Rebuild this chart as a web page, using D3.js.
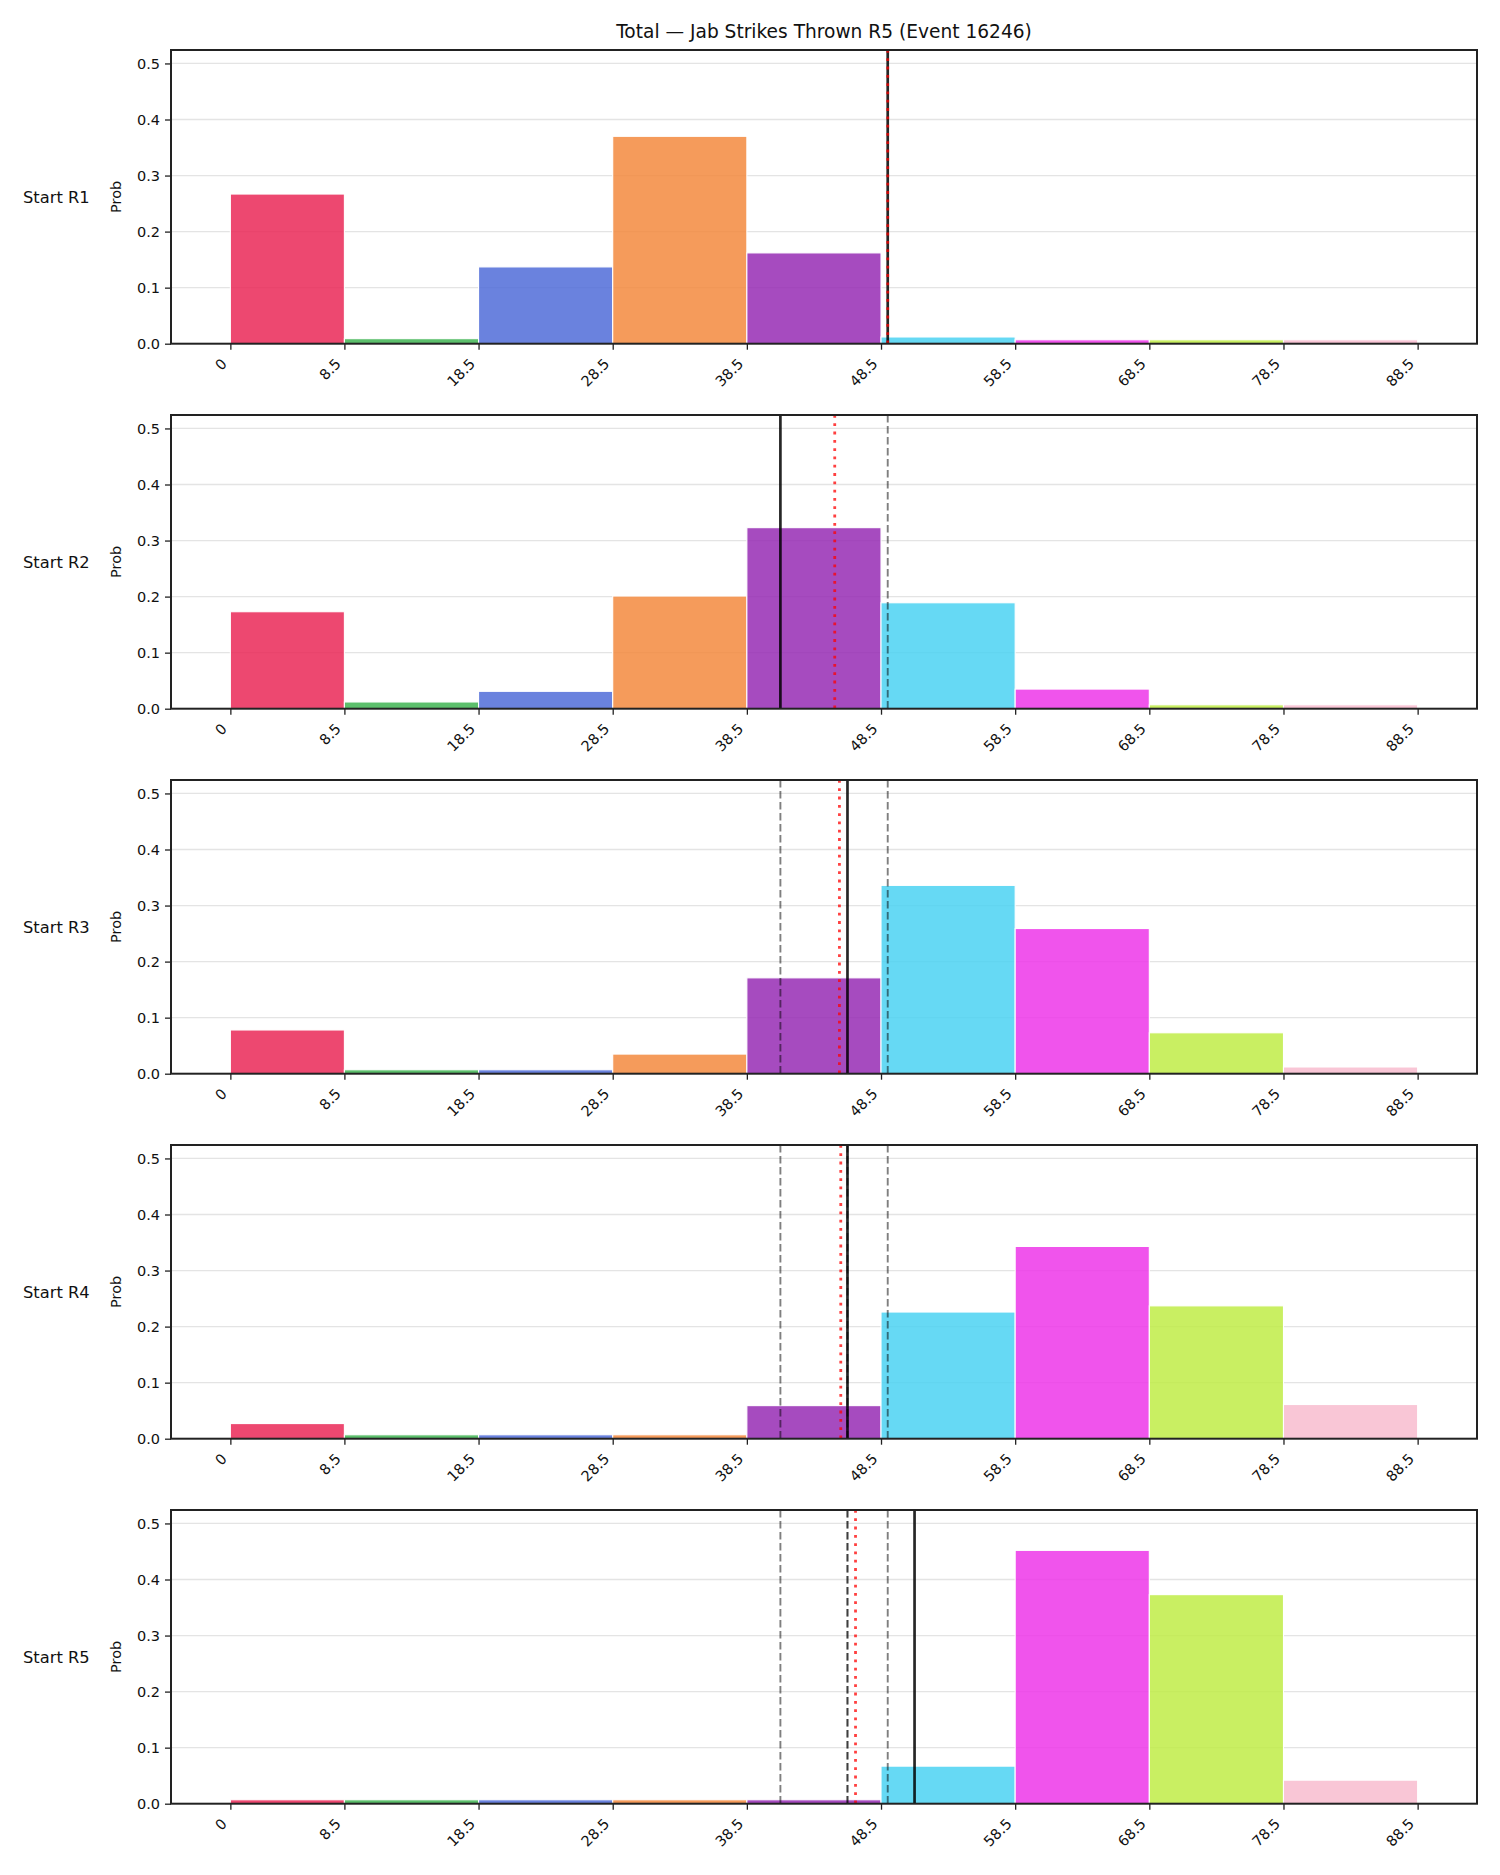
<!DOCTYPE html>
<html>
<head>
<meta charset="utf-8">
<script src="https://cdn.jsdelivr.net/npm/d3@7"></script>
<style>
  body { margin: 0; background: #fff; }
  text { font-family: "DejaVu Sans", sans-serif; fill: #111; }
</style>
</head>
<body>
<svg id="chart" width="1500" height="1875"></svg>
<script>
// bins of the histogram (left edges + final right edge)
const binEdges = [0, 8.5, 18.5, 28.5, 38.5, 48.5, 58.5, 68.5, 78.5, 88.5];
const tickLabels = ["0", "8.5", "18.5", "28.5", "38.5", "48.5", "58.5", "68.5", "78.5", "88.5"];
const binColors = ["#ea2857", "#3fb452", "#506cd8", "#f3893e", "#962bb4",
                   "#4bd2f2", "#ed36e9", "#c0ec46", "#f8bccf"];

const rowLabels = ["Start R1", "Start R2", "Start R3", "Start R4", "Start R5"];
const probR1 = [0.267, 0.009, 0.137, 0.370, 0.162, 0.012, 0.007, 0.007, 0.007];
const probR2 = [0.173, 0.012, 0.031, 0.201, 0.323, 0.189, 0.035, 0.007, 0.007];
const probR3 = [0.078, 0.007, 0.007, 0.035, 0.171, 0.336, 0.259, 0.073, 0.012];
const probR4 = [0.027, 0.007, 0.007, 0.007, 0.059, 0.226, 0.343, 0.237, 0.061];
const probR5 = [0.007, 0.007, 0.007, 0.007, 0.007, 0.067, 0.452, 0.373, 0.042];
const probs = [probR1, probR2, probR3, probR4, probR5];

// mean of each round's distribution, and the red reference line
const meanLines = [49.0, 41.0, 46.0, 46.0, 51.0];
const redLines = [49.0, 45.05, 45.4, 45.5, 46.6];

const yTicks = [0, 0.1, 0.2, 0.3, 0.4, 0.5];
const title = "Total \u2014 Jab Strikes Thrown R5 (Event 16246)";

var svg = d3.select("#chart");
var left = 171, right = 1477, panelH = 293.7, panelStep = 365, firstTop = 50;

var x = d3.scaleLinear().domain([-4.425, 92.925]).range([left, right]);

svg.append("rect").attr("width", 1500).attr("height", 1875).attr("fill", "#fff");

svg.append("text")
    .attr("x", (left + right) / 2)
    .attr("y", 38)
    .attr("text-anchor", "middle")
    .style("font-size", "18.6px")
    .text(title);

/**
 * One histogram panel per starting round.
 */
function drawPanel(i) {
    var top = firstTop + i * panelStep;
    var y = d3.scaleLinear().domain([0, 0.524]).range([top + panelH, top]);
    var g = svg.append("g").attr("class", "panel");

    // grid
    g.selectAll(".grid")
    .data(yTicks.slice(1))
    .enter().append("line")
    .attr("x1", left).attr("x2", right)
    .attr("y1", function (d) {return y(d);})
    .attr("y2", function (d) {return y(d);})
    .style("stroke", "#e4e4e4")
    .attr("stroke-width", 1.3);

    // bars
    g.selectAll(".bar")
    .data(probs[i])
    .enter().append("rect")
    .attr("x", function (d, k) {return x(binEdges[k]);})
    .attr("width", function (d, k) {return x(binEdges[k + 1]) - x(binEdges[k]);})
    .attr("y", function (d) {return y(d);})
    .attr("height", function (d) {return y(0) - y(d);})
    .style("fill", function (d, k) {return binColors[k];})
    .style("fill-opacity", 0.85)
    .style("stroke", "#fff")
    .attr("stroke-width", 1.1);

    // earlier rounds' means, grey dashed
    g.selectAll(".prev")
    .data(meanLines.slice(0, i))
    .enter().append("line")
    .attr("x1", function (d) {return x(d);})
    .attr("x2", function (d) {return x(d);})
    .attr("y1", top).attr("y2", top + panelH)
    .style("stroke", "#000")
    .style("stroke-opacity", 0.5)
    .attr("stroke-width", 1.9)
    .attr("stroke-dasharray", "7.5,3.5");

    g.append("line")
    .attr("x1", x(meanLines[i])).attr("x2", x(meanLines[i]))
    .attr("y1", top).attr("y2", top + panelH)
    .style("stroke", "#000")
    .style("stroke-opacity", 0.85)
    .attr("stroke-width", 2.7);

    g.append("line")
    .attr("x1", x(redLines[i])).attr("x2", x(redLines[i]))
    .attr("y1", top).attr("y2", top + panelH)
    .style("stroke", "red")
    .style("stroke-opacity", 0.75)
    .attr("stroke-width", 2.8)
    .attr("stroke-dasharray", "2.8,5.5");

    // y axis
    var yAxis = d3.axisLeft(y).tickValues(yTicks).tickSize(6).tickPadding(5)
        .tickFormat(d3.format(".1f"));
    var ya = g.append("g").attr("transform", "translate(" + left + ",0)").call(yAxis);
    ya.select(".domain").remove();
    ya.selectAll("line").style("stroke", "#222").attr("stroke-width", 1.3);
    ya.selectAll("text").style("font-size", "14.5px").style("font-family", "DejaVu Sans");

    // x axis
    var xAxis = d3.axisBottom(x).tickValues(binEdges).tickSize(6)
        .tickFormat(function (d, k) {return tickLabels[k];});
    var xa = g.append("g").attr("transform", "translate(0," + (top + panelH) + ")").call(xAxis);
    xa.select(".domain").remove();
    xa.selectAll("line").style("stroke", "#222").attr("stroke-width", 1.3);
    xa.selectAll("text")
    .attr("y", 0).attr("dy", 0)
    .attr("text-anchor", "end")
    .attr("transform", "translate(-3,21) rotate(-45)")
    .style("font-size", "14.5px")
    .style("font-family", "DejaVu Sans");

    // frame
    g.append("rect")
    .attr("x", left).attr("y", top)
    .attr("width", right - left).attr("height", panelH)
    .style("fill", "none")
    .style("stroke", "#222")
    .attr("stroke-width", 2);

    g.append("text")
    .attr("transform", "translate(121," + (top + panelH / 2) + ") rotate(-90)")
    .attr("text-anchor", "middle")
    .style("font-size", "14.5px")
    .text("Prob");

    g.append("text")
    .attr("x", 23)
    .attr("y", top + panelH / 2 + 6)
    .style("font-size", "16.3px")
    .text(rowLabels[i]);
}

for (var i = 0; i < probs.length; i++) {
    drawPanel(i);
}
</script>
</body>
</html>
